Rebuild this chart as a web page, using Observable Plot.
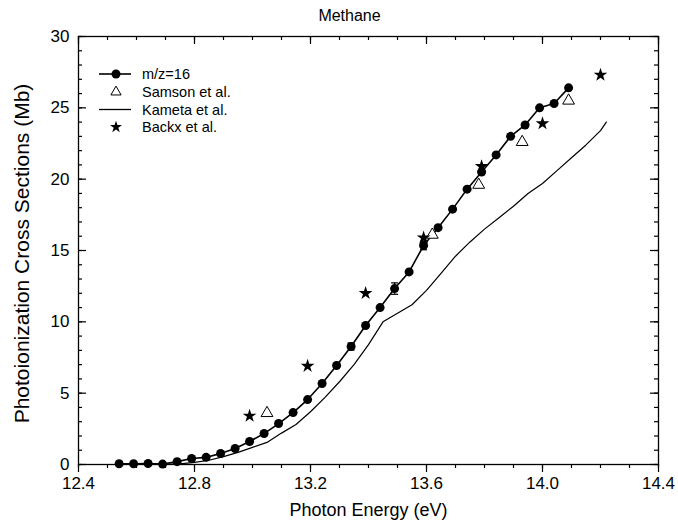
<!DOCTYPE html>
<html><head><meta charset="utf-8">
<script src="https://cdn.jsdelivr.net/npm/d3@7"></script>
<script src="https://cdn.jsdelivr.net/npm/@observablehq/plot@0.6"></script>
<style>
body{margin:0;background:#fff;font-family:"Liberation Sans",Arial,sans-serif;}
#wrap{position:relative;width:678px;height:530px;}
#legend{position:absolute;left:0;top:0;}
</style></head><body><div id="wrap"></div>
<script>
// ---- data ----
const title = "Methane";
const xLabel = "Photon Energy (eV)";
const yLabel = "Photoionization Cross Sections (Mb)";

const mzEnergy = [12.54,12.59,12.64,12.69,12.74,12.79,12.84,12.89,12.94,12.99,13.04,13.09,13.14,13.19,13.24,13.29,13.34,13.39,13.44,13.49,13.54,13.59,13.64,13.69,13.74,13.79,13.84,13.89,13.94,13.99,14.04,14.09];
const mzValue  = [0.05,0.05,0.07,0.03,0.2,0.42,0.5,0.77,1.12,1.61,2.17,2.87,3.64,4.55,5.68,6.94,8.27,9.74,11.0,12.33,13.5,15.35,16.6,17.9,19.3,20.5,21.7,23.0,23.8,25.0,25.3,26.4];
const mzErr    = [0,0,0,0,0,0,0,0,0,0,0,0,0,0,0,0,0.25,0,0,0.4,0,0.3,0,0,0,0,0,0,0,0,0,0];

const samsonEnergy = [13.05,13.62,13.78,13.93,14.09];
const samsonValue  = [3.6,16.1,19.6,22.6,25.5];

const backxEnergy = [12.99,13.19,13.39,13.59,13.79,14.00,14.20];
const backxValue  = [3.4,6.9,12.0,15.9,20.9,23.9,27.3];

const kametaEnergy = [12.60,12.70,12.75,12.80,12.85,12.90,12.95,13.00,13.05,13.10,13.15,13.20,13.25,13.30,13.35,13.40,13.45,13.50,13.55,13.60,13.65,13.70,13.75,13.80,13.85,13.90,13.95,14.00,14.05,14.10,14.15,14.20,14.22];
const kametaValue  = [0.0,0.02,0.05,0.15,0.3,0.55,0.85,1.2,1.55,2.2,2.8,3.7,4.7,5.8,7.0,8.4,10.0,10.6,11.2,12.2,13.4,14.6,15.6,16.5,17.3,18.1,19.0,19.7,20.6,21.5,22.4,23.4,24.0];

const xMajorTicks = [12.4,12.8,13.2,13.6,14.0,14.4];
const xMinorTicks = [12.4,12.5,12.6,12.7,12.8,12.9,13.0,13.1,13.2,13.3,13.4,13.5,13.6,13.7,13.8,13.9,14.0,14.1,14.2,14.3,14.4];
const yMajorTicks = [0,5,10,15,20,25,30];
const yMinorTicks = d3.range(0,31);

const legendLabels = ["m/z=16","Samson et al.","Kameta et al.","Backx et al."];

// ---- tables ----
const mz = mzEnergy.map((x,i)=>({x, y:mzValue[i], e:mzErr[i]}));
const mzE = mz.filter(d=>d.e>0);
const samson = samsonEnergy.map((x,i)=>({x, y:samsonValue[i]}));
const backx = backxEnergy.map((x,i)=>({x, y:backxValue[i]}));
const kameta = kametaEnergy.map((x,i)=>({x, y:kametaValue[i]}));

const W = 678, H = 530, mL = 78, mR = 20, mT = 36, mB = 66;
const fw = W-mL-mR, fh = H-mT-mB;
const capSymbol = {draw(ctx, size){ const w = 3.5; ctx.moveTo(-w,0); ctx.lineTo(w,0); }};

const chart = Plot.plot({
  width: W, height: H,
  marginLeft: mL, marginRight: mR, marginTop: mT, marginBottom: mB,
  style: {fontFamily: "'Liberation Sans', Arial, sans-serif", background: "white", color: "black"},
  x: {domain: [12.4, 14.4]},
  y: {domain: [0, 30]},
  marks: [
    // bottom axis: outward ticks
    Plot.axisX(xMinorTicks, {anchor: "bottom", tickSize: 4, tickFormat: () => "", label: null, strokeWidth: 1.2}),
    Plot.axisX(xMajorTicks, {anchor: "bottom", tickSize: 8, tickPadding: 4, tickFormat: d => d.toFixed(1), label: null, fontSize: 17, strokeWidth: 1.2}),
    // top inward ticks
    Plot.tickX(xMinorTicks, {x: d => d, insetBottom: fh-4, strokeWidth: 1.2}),
    Plot.tickX(xMajorTicks, {x: d => d, insetBottom: fh-8, strokeWidth: 1.2}),
    // left inward ticks
    Plot.tickY(yMinorTicks, {y: d => d, insetRight: fw-4, strokeWidth: 1.2}),
    Plot.tickY(yMajorTicks, {y: d => d, insetRight: fw-8, strokeWidth: 1.2}),
    // right inward ticks
    Plot.tickY(yMinorTicks, {y: d => d, insetLeft: fw-4, strokeWidth: 1.2}),
    Plot.tickY(yMajorTicks, {y: d => d, insetLeft: fw-8, strokeWidth: 1.2}),
    Plot.axisY(yMajorTicks, {anchor: "left", tickSize: 0, tickPadding: 9, label: null, fontSize: 17}),
    Plot.frame({stroke: "black", strokeWidth: 1.3}),
    // data
    Plot.line(kameta, {x: "x", y: "y", stroke: "black", strokeWidth: 1.2}),
    Plot.line(mz, {x: "x", y: "y", stroke: "black", strokeWidth: 1.6}),
    Plot.ruleX(mzE, {x: "x", y1: d => d.y - d.e, y2: d => d.y + d.e, stroke: "black", strokeWidth: 1.2}),
    Plot.dot(mzE, {x: "x", y: d => d.y - d.e, symbol: capSymbol, stroke: "black", strokeWidth: 1.2}),
    Plot.dot(mzE, {x: "x", y: d => d.y + d.e, symbol: capSymbol, stroke: "black", strokeWidth: 1.2}),
    Plot.dot(mz, {x: "x", y: "y", r: 4.5, fill: "black"}),
    Plot.dot(samson, {x: "x", y: "y", symbol: "triangle", r: 4.4, stroke: "black", fill: "white", strokeWidth: 1}),
    Plot.dot(backx, {x: "x", y: "y", symbol: "star", r: 4.3, fill: "black"}),
    // texts
    Plot.text([title], {text: d => d, frameAnchor: "top", dy: -27, dx: -19, fontSize: 16}),
    Plot.text([xLabel], {text: d => d, frameAnchor: "bottom", dy: 51, fontSize: 18}),
    Plot.text([yLabel], {text: d => d, frameAnchor: "left", textAnchor: "middle", rotate: -90, dx: -56, dy: 3, fontSize: 21})
  ]
});
document.getElementById("wrap").appendChild(chart);

// legend overlay
const leg = d3.select("#wrap").append("svg").attr("id","legend").attr("width",W).attr("height",H)
  .style("font-family","'Liberation Sans', Arial, sans-serif").style("pointer-events","none");
const rowY = [74, 92, 109.5, 127];
const sx1 = 99, sx2 = 131, scx = 116, tx = 142;
// m/z=16
leg.append("line").attr("x1",sx1).attr("x2",sx2).attr("y1",rowY[0]).attr("y2",rowY[0]).attr("stroke","black").attr("stroke-width",1.6);
leg.append("circle").attr("cx",scx).attr("cy",rowY[0]).attr("r",4.5).attr("fill","black");
// Samson
leg.append("path").attr("d", d3.symbol(d3.symbolTriangle, Math.PI*3.8*3.8)()).attr("transform",`translate(${scx},${rowY[1]})`).attr("fill","white").attr("stroke","black");
// Kameta
leg.append("line").attr("x1",sx1).attr("x2",sx2).attr("y1",rowY[2]).attr("y2",rowY[2]).attr("stroke","black").attr("stroke-width",1.3);
// Backx
leg.append("path").attr("d", d3.symbol(d3.symbolStar, Math.PI*3.8*3.8)()).attr("transform",`translate(${scx},${rowY[3]})`).attr("fill","black");
legendLabels.forEach((t,i)=>{
  leg.append("text").attr("x",tx).attr("y",rowY[i]).attr("dy","0.35em").attr("font-size",14.5).text(t);
});
</script></body></html>
